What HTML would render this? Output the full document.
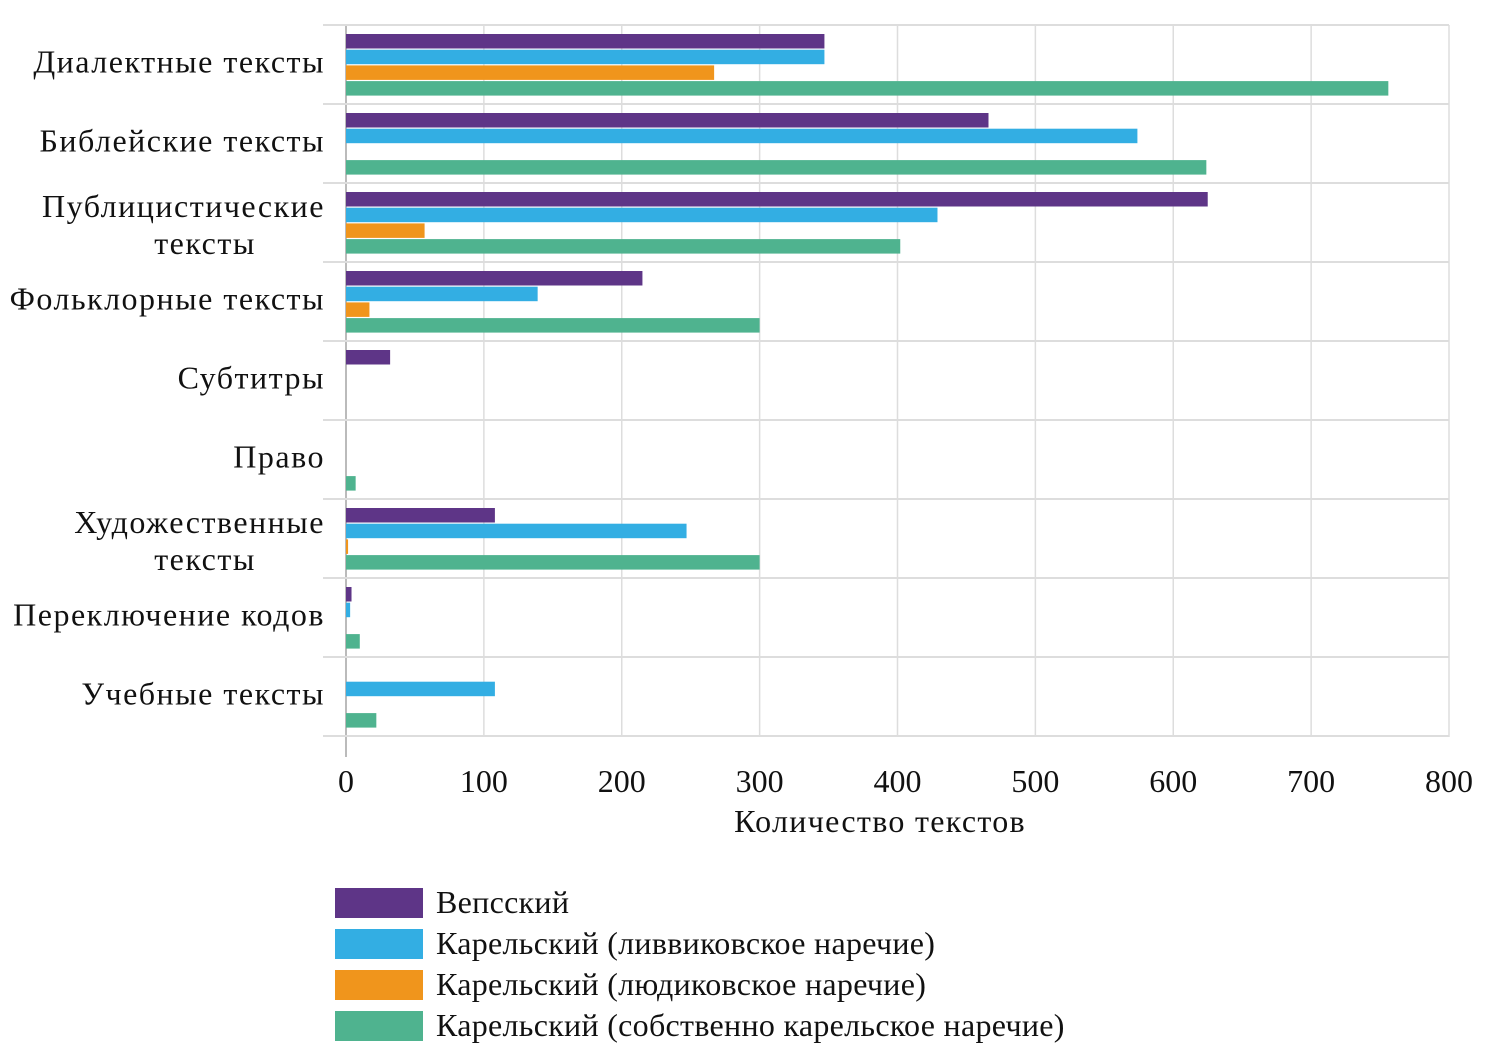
<!DOCTYPE html>
<html><head><meta charset="utf-8"><style>
body{margin:0;background:#fff}
svg text{font-family:"Liberation Serif",serif;fill:#111}
</style></head><body>
<svg id="chart" width="1486" height="1055" xmlns="http://www.w3.org/2000/svg"></svg>
<script>
const categories=[["Диалектные тексты"],["Библейские тексты"],["Публицистические","тексты"],["Фольклорные тексты"],["Субтитры"],["Право"],["Художественные","тексты"],["Переключение кодов"],["Учебные тексты"]];
const seriesNames=["Вепсский","Карельский (ливвиковское наречие)","Карельский (людиковское наречие)","Карельский (собственно карельское наречие)"];
const vepsian=[347,466,625,215,32,0,108,4,0];
const livvi=[347,574,429,139,0,0,247,3,108];
const ludic=[267,0,57,17,0,0,1.5,0,0];
const properKarelian=[756,624,402,300,0,7,300,10,22];
const xTicks=[0,100,200,300,400,500,600,700,800];
const colors=["#5e3587","#33aee3","#f0951c","#4fb38f"];
const series=[vepsian,livvi,ludic,properKarelian];
const svg=document.getElementById('chart');
const NS="http://www.w3.org/2000/svg";
const x0=346,x1=1449,yTop=25,band=79;
const xs=v=>x0+v/800*(x1-x0);
function mk(t,a,p){const e=document.createElementNS(NS,t);for(const k in a)e.setAttribute(k,a[k]);(p||svg).appendChild(e);return e;}
xTicks.forEach(t=>{
 const l=mk('line',{x1:xs(t),x2:xs(t),y1:yTop,y2:t===0?757:737,stroke:t===0?'#bbb':'#ddd','stroke-width':t===0?2:1.5});
 
 
 const tx=mk('text',{x:xs(t),y:792,'text-anchor':'middle','font-size':32});
 tx.textContent=t;
 
 
});
for(let i=0;i<=categories.length;i++){
 const l=mk('line',{x1:323,x2:x1,y1:yTop+i*band,y2:yTop+i*band,stroke:'#ddd','stroke-width':2});
 
 
}
categories.forEach((c,i)=>{
 const cy=yTop+i*band+band/2;
 c.forEach((ln,j)=>{
  const tx=mk('text',{x:c.length>1?(j===0?325:205):325,y:cy+13+(c.length>1?(j-0.5)*37:-5),'text-anchor':c.length>1&&j===1?'middle':'end','font-size':32,'letter-spacing':1.5});
  tx.textContent=ln;
  
  
 });
 series.forEach((s,k)=>{
  if(s[i]<=0)return;
  const r=mk('rect',{x:x0,y:yTop+i*band+9+k*15.7,width:xs(s[i])-x0,height:14.5,fill:colors[k]});
  
  
 });
});
const at=mk('text',{x:880,y:832,'text-anchor':'middle','font-size':32,'letter-spacing':1.3});
at.textContent="Количество текстов";


seriesNames.forEach((n,k)=>{
 const y=888+k*41;
 const r=mk('rect',{x:335,y:y,width:88,height:30,fill:colors[k]});
 
 
 const t=mk('text',{x:436,y:y+25,'font-size':32,'letter-spacing':0.3});
 t.textContent=n;
 
 
});
</script>
</body></html>
